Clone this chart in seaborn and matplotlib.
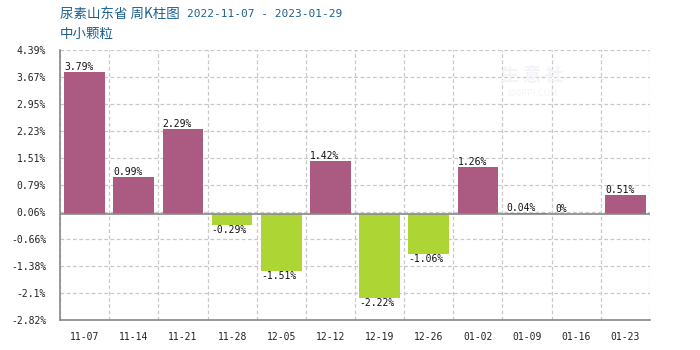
import matplotlib
matplotlib.use("Agg")
import matplotlib.pyplot as plt
import seaborn as sns
import pandas as pd

# Weekly change of urea (Shandong, small/medium granules)
weeks = ["11-07", "11-14", "11-21", "11-28", "12-05", "12-12",
         "12-19", "12-26", "01-02", "01-09", "01-16", "01-23"]
changes = [3.79, 0.99, 2.29, -0.29, -1.51, 1.42, -2.22, -1.06, 1.26, 0.04, 0.0, 0.51]
y_ticks = [4.39, 3.67, 2.95, 2.23, 1.51, 0.79, 0.06, -0.66, -1.38, -2.1, -2.82]

UP = "#AB5A82"
DOWN = "#ADD634"
MONO = "DejaVu Sans Mono"

sns.set_theme(style="white")
plt.rcParams["font.family"] = ["Noto Sans CJK SC", "DejaVu Sans"]

df = pd.DataFrame({"week": weeks, "change": changes})
df["dir"] = ["up" if v >= 0 else "down" for v in changes]

fig = plt.figure(figsize=(7, 3.5), dpi=100)
ax = fig.add_axes([60 / 700, 30 / 350, 590 / 700, 270 / 350])

sns.barplot(data=df, x="week", y="change", hue="dir",
            palette={"up": UP, "down": DOWN}, dodge=False, legend=False,
            width=0.83, saturation=1, linewidth=0, ax=ax)

ax.set_ylim(-2.82, 4.39)
ax.set_xlim(-0.5, len(weeks) - 0.5)
ax.set_yticks(y_ticks)
ax.set_yticklabels([f"{t:g}%" for t in y_ticks],
                   family=MONO, fontsize=7, color="#222222")
ax.set_xticks(range(len(weeks)))
ax.set_xticklabels(weeks, family=MONO, fontsize=7, color="#222222")
ax.tick_params(axis="y", length=0, pad=10)
ax.tick_params(axis="x", length=0, pad=9)
ax.set_xlabel("")
ax.set_ylabel("")

# dashed grid: horizontal at ticks, vertical between weeks
for t in y_ticks:
    ax.axhline(t, color="#c8c8c8", lw=0.9, ls=(0, (3, 2)), zorder=0)
for i in range(len(weeks) + 1):
    ax.axvline(i - 0.5, color="#c8c8c8", lw=0.9, ls=(0, (3, 2)), zorder=0)
ax.axhline(0, color="#888888", lw=1.2, zorder=3)

for side in ["top", "right"]:
    ax.spines[side].set_visible(False)
for side in ["left", "bottom"]:
    ax.spines[side].set_color("#888888")
    ax.spines[side].set_linewidth(1.2)

# value labels, left aligned to each bar
half = 0.83 / 2
for i, v in enumerate(changes):
    ax.text(i - half, v, f"{v:g}%", ha="left",
            va="bottom" if v >= 0 else "top",
            family=MONO, fontsize=7, color="#111111")

# watermark
ax.text(0.80, 0.905, "生 意 社", transform=ax.transAxes, ha="center", va="center",
        fontsize=13, color="#f4f4f8", zorder=0.5, fontweight="bold")
ax.text(0.80, 0.84, "100PPI.COM", transform=ax.transAxes, ha="center", va="center",
        fontsize=6.5, color="#f4f4f8", zorder=0.5)

fig.text(60 / 700, 1 - 14 / 350, "尿素山东省 周K柱图", ha="left", va="center",
         fontsize=9.7, color="#1d5f8f")
fig.text(187 / 700, 1 - 14 / 350, "2022-11-07 - 2023-01-29", ha="left", va="center",
         fontsize=8, color="#1d5f8f", family=MONO)
fig.text(60 / 700, 1 - 34 / 350, "中小颗粒", ha="left", va="center",
         fontsize=9.7, color="#1d5f8f")

fig.savefig("out.png", dpi=100)
